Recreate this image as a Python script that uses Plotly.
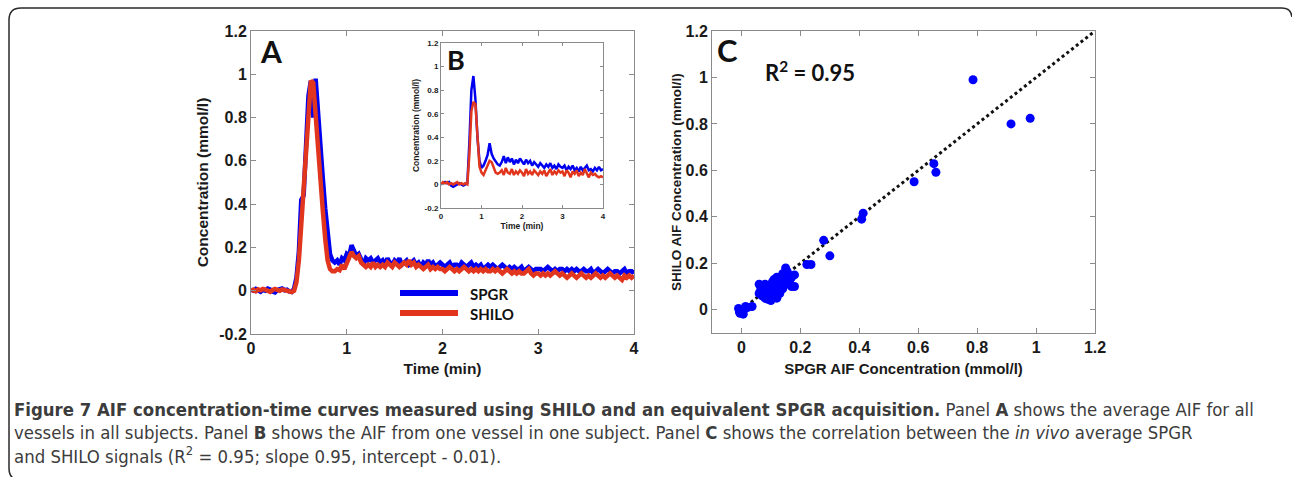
import numpy as np
import plotly.graph_objects as go

W, H = 1292, 477

# ---------------- Panel A: average AIF (sampled every 0.025 min, 0-4 min)
spgr_avg = [
    0.005, 0.0, 0.008, 0.003, -0.005, 0.004, 0.0, 0.01, 0.006, -0.004, -0.008, 0.003, 0.007, 0.01, 0.002, 0.005, -0.003, -0.006,
    0.01, 0.06, 0.18, 0.42, 0.44, 0.68, 0.90, 0.97, 0.80, 0.98, 0.80, 0.64, 0.52, 0.38, 0.26, 0.17, 0.14, 0.13, 0.14, 0.12,
    0.15, 0.14, 0.17, 0.16, 0.21, 0.19, 0.16, 0.17, 0.15, 0.12, 0.15, 0.14, 0.15, 0.13, 0.14, 0.15, 0.13, 0.14, 0.12, 0.15,
    0.13, 0.12, 0.14, 0.13, 0.15, 0.12, 0.13,
    0.14, 0.12, 0.13, 0.14, 0.12, 0.13, 0.11, 0.13, 0.12, 0.14, 0.12, 0.13, 0.11, 0.12, 0.13, 0.12,
    0.11, 0.12, 0.13, 0.11, 0.12, 0.12, 0.11, 0.13, 0.12, 0.11, 0.12, 0.13, 0.11, 0.12, 0.11, 0.12, 0.10, 0.11, 0.12, 0.11,
    0.12, 0.11, 0.10, 0.11, 0.12, 0.11, 0.10, 0.11, 0.10, 0.11, 0.10, 0.10, 0.11, 0.09, 0.10, 0.11, 0.10, 0.09, 0.10, 0.10,
    0.10, 0.09, 0.10, 0.11, 0.10, 0.09, 0.10, 0.09, 0.10, 0.10, 0.09, 0.10, 0.09, 0.10, 0.09, 0.10, 0.09, 0.09, 0.10, 0.09,
    0.09, 0.10, 0.08, 0.09, 0.10, 0.09, 0.08, 0.09, 0.10, 0.09, 0.08, 0.09, 0.09, 0.08, 0.09, 0.10, 0.08, 0.09, 0.09, 0.08,
]
shilo_avg = [
    0.0, 0.004, -0.003, 0.006, 0.002, 0.008, 0.005, -0.002, -0.005, 0.003, 0.008, 0.004, 0.0, 0.006, 0.003, -0.002, -0.004, -0.006,
    0.0, 0.04, 0.14, 0.32, 0.50, 0.68, 0.86, 0.97, 0.96, 0.80, 0.62, 0.50, 0.37, 0.24, 0.14, 0.10, 0.09, 0.09, 0.10, 0.095,
    0.12, 0.10, 0.13, 0.15, 0.18, 0.16, 0.15, 0.16, 0.13, 0.12, 0.11, 0.12, 0.11, 0.13, 0.11, 0.12, 0.11, 0.12, 0.11, 0.13,
    0.12, 0.11, 0.13, 0.12, 0.11, 0.12, 0.13,
    0.12, 0.14, 0.12, 0.13, 0.11, 0.12, 0.11, 0.10, 0.11, 0.12, 0.10, 0.11, 0.10, 0.11, 0.10, 0.10,
    0.09, 0.10, 0.11, 0.10, 0.09, 0.10, 0.09, 0.10, 0.11, 0.10, 0.09, 0.10, 0.09, 0.10, 0.09, 0.10, 0.09, 0.10, 0.09, 0.09,
    0.10, 0.09, 0.10, 0.09, 0.08, 0.09, 0.10, 0.09, 0.08, 0.09, 0.08, 0.09, 0.08, 0.08, 0.09, 0.10, 0.08, 0.07, 0.08, 0.08,
    0.07, 0.08, 0.07, 0.08, 0.07, 0.08, 0.09, 0.08, 0.07, 0.08, 0.07, 0.06, 0.07, 0.08, 0.07, 0.06, 0.07, 0.08, 0.07, 0.06,
    0.07, 0.06, 0.07, 0.08, 0.07, 0.06, 0.07, 0.06, 0.07, 0.08, 0.07, 0.06, 0.07, 0.06, 0.05, 0.07, 0.06, 0.07, 0.06, 0.07,
]

# ---------------- Panel B: one vessel, one subject (sampled every 0.05 min)
spgr_vessel = [
    0.0, 0.01, 0.02, 0.01, 0.02, -0.01, -0.02, -0.01, 0.0, 0.01, 0.0, -0.01, 0.0, 0.01,
    0.35, 0.80, 0.92, 0.72, 0.40, 0.20, 0.14, 0.16, 0.20, 0.25, 0.35, 0.26, 0.22, 0.19, 0.17, 0.16,
    0.19, 0.24, 0.18, 0.23, 0.19, 0.22, 0.17, 0.21, 0.18, 0.22, 0.19, 0.17, 0.21, 0.18, 0.20, 0.16,
    0.19, 0.17, 0.15, 0.18, 0.16, 0.14, 0.17, 0.15, 0.18, 0.14, 0.16, 0.13, 0.17, 0.15, 0.14, 0.16,
    0.12, 0.15, 0.13, 0.16, 0.12, 0.14, 0.11, 0.15, 0.12, 0.14, 0.16, 0.12, 0.13, 0.11, 0.14, 0.12,
    0.15, 0.12, 0.13,
]
shilo_vessel = [
    0.0, 0.02, 0.01, 0.02, 0.0, 0.01, 0.0, 0.01, 0.02, 0.0, 0.01, 0.0, 0.01, 0.0,
    0.25, 0.62, 0.70, 0.68, 0.40, 0.15, 0.10, 0.08, 0.12, 0.16, 0.20, 0.19, 0.14, 0.10, 0.09, 0.10,
    0.12, 0.08, 0.14, 0.10, 0.09, 0.13, 0.08, 0.11, 0.09, 0.12, 0.10, 0.07, 0.13, 0.09, 0.11, 0.08,
    0.12, 0.10, 0.08, 0.11, 0.09, 0.12, 0.07, 0.10, 0.13, 0.08, 0.11, 0.09, 0.12, 0.10, 0.11, 0.07,
    0.12, 0.10, 0.06, 0.11, 0.09, 0.12, 0.07, 0.10, 0.08, 0.13, 0.09, 0.06, 0.10, 0.08, 0.09, 0.07,
    0.06, 0.07, 0.06,
]

# ---------------- Panel C: SPGR vs SHILO concentrations
spgr_pts = [
    0.786, 0.915, 0.98, 0.653, 0.66, 0.586, 0.413, 0.408, 0.279, 0.30, 0.222, 0.236,
    0.06, 0.07, 0.08, 0.09, 0.06, 0.07, 0.08, 0.09, 0.10, 0.10, 0.11, 0.12, 0.08, 0.09, 0.10, 0.11,
    0.12, 0.13, 0.14, 0.11, 0.12, 0.13, 0.14, 0.15, 0.16, 0.15, 0.17, 0.18, 0.17, 0.18, 0.13, 0.12,
    0.10, 0.07, 0.085, 0.095, 0.105, 0.115, 0.125, 0.135, 0.145, 0.16, 0.14, 0.155, 0.11, 0.09,
    0.075, 0.065, 0.105, 0.13, 0.12, 0.10, 0.15, 0.165,
    0.036, 0.005, -0.007, -0.01, 0.014, 0.006, 0.0, 0.01, -0.005, 0.02,
]
shilo_pts = [
    0.99, 0.80, 0.824, 0.629, 0.592, 0.551, 0.416, 0.39, 0.299, 0.232, 0.195, 0.195,
    0.11, 0.10, 0.11, 0.10, 0.07, 0.06, 0.05, 0.06, 0.04, 0.07, 0.08, 0.06, 0.08, 0.09, 0.10, 0.11,
    0.12, 0.10, 0.12, 0.13, 0.14, 0.13, 0.09, 0.11, 0.15, 0.18, 0.14, 0.15, 0.10, 0.10, 0.07, 0.05,
    0.05, 0.08, 0.065, 0.085, 0.095, 0.10, 0.09, 0.115, 0.14, 0.12, 0.155, 0.165, 0.06, 0.045,
    0.09, 0.085, 0.12, 0.085, 0.10, 0.085, 0.13, 0.13,
    0.014, -0.011, -0.009, 0.006, 0.014, -0.019, 0.0, 0.005, -0.015, 0.01,
]
identity_x = [0.0, 1.2]
identity_y = [0.0, 1.2]

conc_ticks = [-0.2, 0, 0.2, 0.4, 0.6, 0.8, 1, 1.2]
conc_labels = ["-0.2", "0", "0.2", "0.4", "0.6", "0.8", "1", "1.2"]
time_ticks = [0, 1, 2, 3, 4]
c_ticks = [0, 0.2, 0.4, 0.6, 0.8, 1, 1.2]
c_labels = ["0", "0.2", "0.4", "0.6", "0.8", "1", "1.2"]

BLUE = "#0000f0"
RED = "#e2351d"
AX = "#8a8a8a"
TXT = "#1a1a1a"

time_a_spgr = np.linspace(0, 4, len(spgr_avg))
time_a_shilo = np.linspace(0, 4, len(shilo_avg))
time_b_spgr = np.linspace(0, 4, len(spgr_vessel))
time_b_shilo = np.linspace(0, 4, len(shilo_vessel))


def fx(p):
    return p / W


def fy(p):
    return 1 - p / H


def axis(size, **kw):
    d = dict(showline=True, linecolor=AX, linewidth=1, mirror="ticks", ticks="inside",
             ticklen=5, tickcolor=AX, showgrid=False, zeroline=False, automargin=False,
             tickfont=dict(family="Liberation Sans, Arial", size=size, color=TXT, weight="bold"))
    d.update(kw)
    return d


fig = go.Figure()
fig.add_trace(go.Scatter(x=time_a_spgr, y=spgr_avg, mode="lines", line=dict(color=BLUE, width=4.5),
                         xaxis="x", yaxis="y", showlegend=False))
fig.add_trace(go.Scatter(x=time_a_shilo, y=shilo_avg, mode="lines", line=dict(color=RED, width=4.5),
                         xaxis="x", yaxis="y", showlegend=False))
fig.add_trace(go.Scatter(x=time_b_spgr, y=spgr_vessel, mode="lines", line=dict(color=BLUE, width=2.5),
                         xaxis="x2", yaxis="y2", showlegend=False))
fig.add_trace(go.Scatter(x=time_b_shilo, y=shilo_vessel, mode="lines", line=dict(color=RED, width=2.5),
                         xaxis="x2", yaxis="y2", showlegend=False))
fig.add_trace(go.Scatter(x=identity_x, y=identity_y, mode="lines", line=dict(color="#111", width=3, dash="dot"),
                         xaxis="x3", yaxis="y3", showlegend=False))
fig.add_trace(go.Scatter(x=spgr_pts, y=shilo_pts, mode="markers", marker=dict(color="#0000ff", size=9),
                         xaxis="x3", yaxis="y3", showlegend=False))

title_font = dict(family="Liberation Sans, Arial", size=15.5, color=TXT, weight="bold")
small_title = dict(family="Liberation Sans, Arial", size=8.5, color=TXT, weight="bold")

fig.update_layout(
    width=W, height=H, margin=dict(l=0, r=0, t=0, b=0),
    paper_bgcolor="white", plot_bgcolor="white",
    xaxis=axis(16, domain=[fx(251), fx(634)], range=[0, 4], tickvals=time_ticks,
               title=dict(text="Time (min)", font=title_font, standoff=6), anchor="y"),
    yaxis=axis(16, domain=[fy(334), fy(31)], range=[-0.2, 1.2], tickvals=conc_ticks, ticktext=conc_labels,
               title=dict(text="Concentration (mmol/l)", font=title_font, standoff=6), anchor="x"),
    xaxis2=axis(8, domain=[fx(441), fx(603)], range=[0, 4], tickvals=time_ticks, ticklen=3,
                title=dict(text="Time (min)", font=small_title, standoff=2), anchor="y2"),
    yaxis2=axis(8, domain=[fy(208), fy(43)], range=[-0.2, 1.2], tickvals=conc_ticks, ticktext=conc_labels,
                ticklen=3, title=dict(text="Concentration (mmol/l)", font=small_title, standoff=3), anchor="x2"),
    xaxis3=axis(16, domain=[fx(712), fx(1095)], range=[-0.1, 1.2], tickvals=c_ticks, ticktext=c_labels,
                title=dict(text="SPGR AIF Concentration (mmol/l)", font=dict(title_font, size=15), standoff=8),
                anchor="y3"),
    yaxis3=axis(16, domain=[fy(333), fy(31)], range=[-0.1, 1.2], tickvals=c_ticks, ticktext=c_labels,
                title=dict(text="SHILO AIF Concentration (mmol/l)", font=dict(title_font, size=13.5), standoff=0),
                anchor="x3"),
)

letter_font = dict(family="Lato, Open Sans", size=30, color="#111", weight="bold")
ann = [
    dict(x=fx(258), y=fy(51), text="A", font=letter_font, xanchor="left"),
    dict(x=fx(445), y=fy(60), text="B", font=dict(letter_font, size=27), xanchor="left"),
    dict(x=fx(715), y=fy(50), text="C", font=dict(letter_font, size=31), xanchor="left"),
    dict(x=fx(763), y=fy(72), text="R<sup>2</sup> = 0.95", font=dict(letter_font, size=22), xanchor="left"),
    dict(x=fx(468), y=fy(294), text="SPGR", font=dict(family="Lato, Open Sans", size=15, color="#111", weight="bold"),
         xanchor="left"),
    dict(x=fx(468), y=fy(314), text="SHILO", font=dict(family="Lato, Open Sans", size=15, color="#111", weight="bold"),
         xanchor="left"),
]
cap_font = dict(family="Liberation Sans Narrow, DejaVu Sans Condensed, Roboto Condensed, Liberation Sans", size=18.4,
                color="#3c3c3c")
captions = [
    "<b>Figure 7 AIF concentration-time curves measured using SHILO and an equivalent SPGR acquisition.</b> "
    "Panel <b>A</b> shows the average AIF for all",
    "vessels in all subjects. Panel <b>B</b> shows the AIF from one vessel in one subject. Panel <b>C</b> shows "
    "the correlation between the <i>in vivo</i> average SPGR",
    "and SHILO signals (R<sup>2</sup> = 0.95; slope 0.95, intercept - 0.01).",
]
for i, c in enumerate(captions):
    ann.append(dict(x=fx(12), y=fy(409 + 23 * i), text=c, font=cap_font, xanchor="left"))
for a in ann:
    a.update(xref="paper", yref="paper", showarrow=False, yanchor="middle")
fig.update_layout(annotations=ann)

shapes = [
    dict(type="line", xref="paper", yref="paper", x0=fx(400), x1=fx(458), y0=fy(293), y1=fy(293),
         line=dict(color=BLUE, width=6)),
    dict(type="line", xref="paper", yref="paper", x0=fx(400), x1=fx(458), y0=fy(313), y1=fy(313),
         line=dict(color=RED, width=6)),
]
border = (f"M {fx(20)},{fy(480)} Q {fx(9)},{fy(480)} {fx(9)},{fy(468)} L {fx(9)},{fy(20)} "
          f"Q {fx(9)},{fy(8)} {fx(21)},{fy(8)} L {fx(1282)},{fy(8)} Q {fx(1291)},{fy(8)} {fx(1292)},{fy(17)}")
shapes.append(dict(type="path", xref="paper", yref="paper", path=border, line=dict(color="#2a2a2a", width=1.5)))
fig.update_layout(shapes=shapes)

fig.write_html("out.html")
